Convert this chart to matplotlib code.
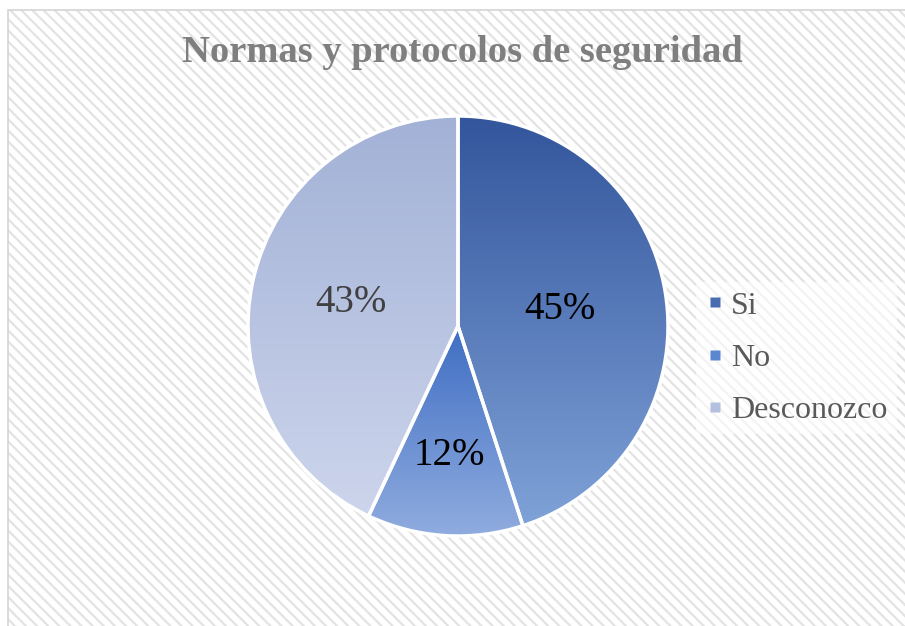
import matplotlib
matplotlib.use("Agg")
import matplotlib.pyplot as plt
import numpy as np
from matplotlib.colors import LinearSegmentedColormap
from matplotlib.lines import Line2D
from matplotlib.patches import Rectangle

# datos del grafico
categorias = ["Si", "No", "Desconozco"]
porcentajes = [45, 12, 43]
titulo = "Normas y protocolos de seguridad"

# degradado vertical de cada porcion (arriba, abajo)
degradados = [("#33559c", "#7fa2d8"), ("#3f6ec3", "#90acdf"), ("#a2b1d6", "#cdd5ec")]
colores_texto = ["black", "black", "#404040"]
dist_etiquetas = [0.49, 0.62, 0.52]

plt.rcParams["font.family"] = ["Liberation Serif", "DejaVu Serif"]
plt.rcParams["hatch.linewidth"] = 1.6

fig = plt.figure(figsize=(9.05, 6.26), dpi=100)
W, H = 905, 626

# fondo rayado con borde
fondo = Rectangle((8 / W, 0), 1, 1 - 10 / H, transform=fig.transFigure,
                  facecolor="white", edgecolor="#e3e3e3", hatch="\\\\\\", lw=0, zorder=-2)
fig.patches.append(fondo)
borde = Rectangle((8 / W, -0.01), 1, 1 - 10 / H + 0.01, transform=fig.transFigure,
                  facecolor="none", edgecolor="#d4d4d4", lw=1.2, zorder=-1)
fig.patches.append(borde)

ax = fig.add_axes([(458 - 210) / W, (626 - 536) / H, 420 / W, 420 / H])
ax.set_xlim(-1, 1)
ax.set_ylim(-1, 1)
ax.set_aspect("equal")
ax.axis("off")

wedges, _ = ax.pie(porcentajes, startangle=90, counterclock=False, radius=1,
                   colors=["none"] * 3,
                   wedgeprops=dict(edgecolor="white", linewidth=2.5, zorder=2))

for w, (c1, c2), pct, d, tc in zip(wedges, degradados, porcentajes, dist_etiquetas, colores_texto):
    bb = w.get_path().get_extents()
    cmap = LinearSegmentedColormap.from_list("g", [c1, c2])
    grad = np.linspace(0, 1, 256).reshape(-1, 1)
    im = ax.imshow(grad, cmap=cmap, extent=[bb.x0, bb.x1, bb.y0, bb.y1],
                   origin="upper", aspect="auto", zorder=1)
    im.set_clip_path(w)
    ang = np.deg2rad((w.theta1 + w.theta2) / 2)
    ax.text(d * np.cos(ang), d * np.sin(ang), f"{pct}%", ha="center", va="center",
            fontsize=28, color=tc, zorder=3)

ax.set_xlim(-1, 1)
ax.set_ylim(-1, 1)

fig.text(462 / W, 1 - 53 / H, titulo, ha="center", va="center", fontsize=27.7,
         fontweight="bold", color="#7f7f7f")

manijas = [Line2D([], [], marker="s", linestyle="none", markersize=7,
                  markerfacecolor=c, markeredgecolor="none")
           for c in ["#4a6cb0", "#5b86d0", "#b3c0e0"]]
leg = fig.legend(manijas, categorias, loc="center left",
                 bbox_to_anchor=(696 / W, 1 - 358 / H), frameon=True,
                 fontsize=23, handlelength=0.6, handletextpad=0.2,
                 labelspacing=0.71, borderpad=0.3, borderaxespad=0)
leg.get_frame().set_facecolor("white")
leg.get_frame().set_alpha(0.6)
leg.get_frame().set_edgecolor("none")
leg.get_frame().set_boxstyle("square", pad=0)
for t in leg.get_texts():
    t.set_color("#595959")

fig.savefig("out.png", dpi=100)
